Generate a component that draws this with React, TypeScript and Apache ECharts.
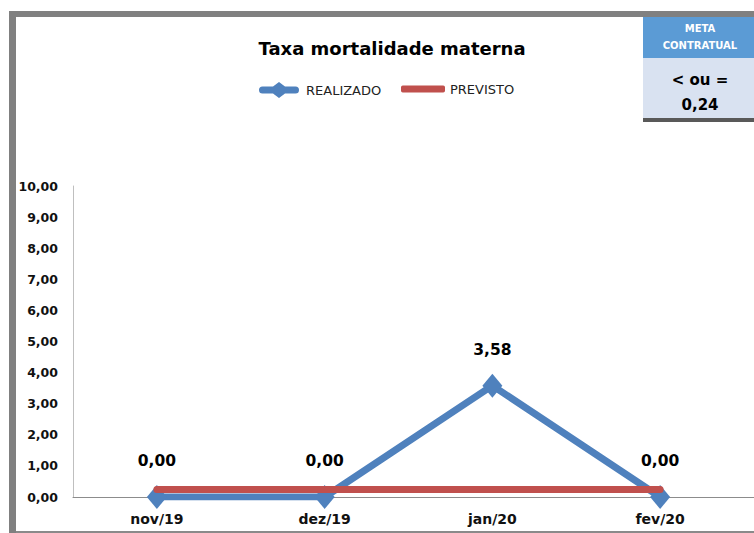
import React, { useEffect, useRef } from "react";
import * as echarts from "echarts";

const categories = ["nov/19", "dez/19", "jan/20", "fev/20"];
const realizado = [0, 0, 3.58, 0];
const previsto = [0.24, 0.24, 0.24, 0.24];
const metaTitle = ["META", "CONTRATUAL"];
const metaValue = ["< ou =", "0,24"];

const fmt = (v: number) => v.toFixed(2).replace(".", ",");
const FONT = "DejaVu Sans";

const realIcon =
  "path://M3.5,4.5 L14,4.5 L20,0 L26,4.5 L36.5,4.5 A3.5,3.5 0 0 1 36.5,11.5 L26,11.5 L20,16 L14,11.5 L3.5,11.5 A3.5,3.5 0 0 1 3.5,4.5 Z";

export default function App() {
  const ref = useRef<HTMLDivElement>(null);
  useEffect(() => {
    const chart = echarts.init(ref.current!, null, { renderer: "svg" });
    const legendText = { fontFamily: FONT, fontSize: 13, color: "#222" };
    chart.setOption({
      animation: false,
      backgroundColor: "#ffffff",
      title: {
        text: "Taxa mortalidade materna",
        left: 387,
        textAlign: "center",
        top: 34,
        textStyle: { fontFamily: FONT, fontSize: 18, fontWeight: "bold", color: "#000" },
      },
      legend: [
        {
          top: 77,
          left: 254,
          itemWidth: 44,
          itemHeight: 16,
          textStyle: legendText,
          data: [{ name: "REALIZADO", icon: realIcon, itemStyle: { color: "#4F81BD" } }],
        },
        {
          top: 77.5,
          left: 396,
          itemWidth: 44,
          itemHeight: 7,
          textStyle: legendText,
          data: [{ name: "PREVISTO", icon: "roundRect", itemStyle: { color: "#C0504D" } }],
        },
      ],
      grid: { left: 73, right: 10, top: 186, bottom: 36, containLabel: false },
      xAxis: {
        type: "category",
        data: categories,
        boundaryGap: true,
        axisLine: { lineStyle: { color: "#8c8c8c", width: 1 } },
        axisTick: { show: false },
        axisLabel: { fontFamily: FONT, fontSize: 14, fontWeight: "bold", color: "#111", margin: 15 },
      },
      yAxis: {
        type: "value",
        min: 0,
        max: 10,
        interval: 1,
        axisLine: { show: true, lineStyle: { color: "#bfbfbf", width: 1 } },
        axisTick: { show: false },
        splitLine: { show: false },
        axisLabel: {
          fontFamily: FONT,
          fontSize: 12.5,
          fontWeight: "bold",
          color: "#111",
          margin: 15,
          formatter: (v: number) => fmt(v),
        },
      },
      series: [
        {
          name: "REALIZADO",
          type: "line",
          data: realizado,
          z: 2,
          lineStyle: { color: "#4F81BD", width: 7 },
          itemStyle: { color: "#4F81BD" },
          symbol: "diamond",
          symbolSize: [20, 24],
          label: {
            show: true,
            position: "top",
            distance: 16,
            fontFamily: FONT,
            fontSize: 15.5,
            fontWeight: "bold",
            color: "#000",
            formatter: (p: any) => fmt(p.value),
          },
        },
        {
          name: "PREVISTO",
          type: "line",
          data: previsto,
          z: 3,
          lineStyle: { color: "#C0504D", width: 7, cap: "round" },
          itemStyle: { color: "#C0504D" },
          symbol: "none",
          showSymbol: false,
        },
      ],
      graphic: [
        { type: "rect", shape: { x: 9, y: 11, width: 7, height: 522 }, style: { fill: "#808080" } },
        { type: "rect", shape: { x: 9, y: 11, width: 745, height: 6 }, style: { fill: "#808080" } },
        { type: "rect", shape: { x: 16, y: 531, width: 738, height: 2 }, style: { fill: "#8a8a8a" } },
        { type: "line", shape: { x1: 744, y1: 497.5, x2: 754, y2: 497.5 }, style: { stroke: "#8c8c8c", lineWidth: 1 } },
        { type: "rect", shape: { x: 643, y: 17, width: 111, height: 41 }, style: { fill: "#5B9BD5" } },
        { type: "rect", shape: { x: 643, y: 58, width: 111, height: 60 }, style: { fill: "#D9E2F1" } },
        { type: "rect", shape: { x: 643, y: 118, width: 111, height: 4 }, style: { fill: "#595959" } },
        {
          type: "text",
          x: 700,
          y: 28,
          style: { text: metaTitle[0], fill: "#ffffff", font: `bold 10px "${FONT}"`, align: "center", verticalAlign: "middle" },
        },
        {
          type: "text",
          x: 700,
          y: 45,
          style: { text: metaTitle[1], fill: "#ffffff", font: `bold 10px "${FONT}"`, align: "center", verticalAlign: "middle" },
        },
        {
          type: "text",
          x: 700,
          y: 80,
          style: { text: metaValue[0], fill: "#000", font: `bold 15px "${FONT}"`, align: "center", verticalAlign: "middle" },
        },
        {
          type: "text",
          x: 700,
          y: 105,
          style: { text: metaValue[1], fill: "#000", font: `bold 15px "${FONT}"`, align: "center", verticalAlign: "middle" },
        },
      ],
    });
    return () => chart.dispose();
  }, []);
  return <div ref={ref} style={{ position: "absolute", left: 0, top: 0, width: 754, height: 533 }} />;
}
